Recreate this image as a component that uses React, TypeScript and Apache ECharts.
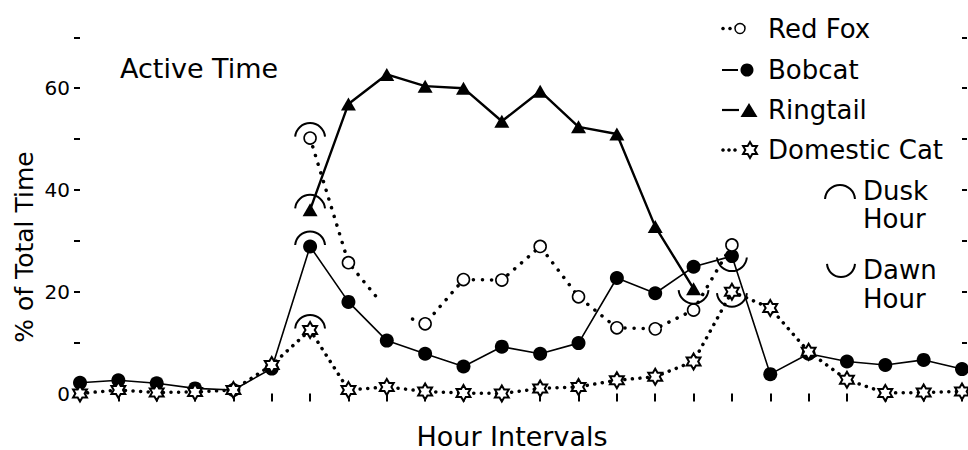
import React, { useEffect, useRef } from 'react';
import * as echarts from 'echarts';

// ---- data ----
const hours = ['1', '2', '3', '4', '5', '6', '7', '8', '9', '10', '11', '12', '13', '14', '15', '16', '17', '18', '19', '20', '21', '22', '23', '24'];

const bobcat = [2.1, 2.6, 2.0, 1.0, 0.7, 4.9, 28.9, 18.0, 10.4, 7.8, 5.3, 9.2, 7.8, 9.9, 22.7, 19.7, 24.9, 27.0, 3.8, 7.8, 6.3, 5.6, 6.6, 4.8];
const ringtail = [null, null, null, null, null, null, 36.1, 56.9, 62.7, 60.4, 60.0, 53.5, 59.4, 52.4, 51.0, 32.8, 20.6, null, null, null, null, null, null, null];
const redFox = [null, null, null, null, null, null, 50.2, 25.7, 16.5, 13.7, 22.4, 22.3, 28.9, 19.0, 12.9, 12.7, 16.4, 29.2, null, null, null, null, null, null];
const domesticCat = [0.0, 0.7, 0.2, 0.3, 0.7, 5.6, 12.5, 0.7, 1.3, 0.4, 0.1, 0.0, 1.0, 1.3, 2.6, 3.3, 6.3, 20.0, 16.8, 8.2, 2.7, 0.1, 0.2, 0.4];

const yLabelValues = [0, 20, 40, 60];
const duskIndex = 6;
const dawnRingtail = 16;
const dawnBobcat = 17;
const dawnCat = 17;
const foxUnmarkedIndex = 8;
const foxGapFrom = 7.8;
const foxGapTo = 8.55;

const FONT = 'DejaVu Sans';
const starPath =
  'path://M10,0L12.89,5L18.66,5L15.77,10L18.66,15L12.89,15L10,20L7.11,15L1.34,15L4.23,10L1.34,5L7.11,5Z';

function starPoints(cx: number, cy: number, R: number) {
  const pts: number[][] = [];
  for (let k = 0; k < 12; k++) {
    const a = (-90 + 30 * k) * (Math.PI / 180);
    const r = k % 2 === 0 ? R : R / Math.sqrt(3);
    pts.push([cx + r * Math.cos(a), cy + r * Math.sin(a)]);
  }
  return pts;
}

function txt(text: string, x: number, y: number, size: number, extra: any = {}) {
  return {
    type: 'text',
    x,
    y,
    ...extra,
    style: {
      text,
      x: 0,
      y: 0,
      fill: '#000',
      fontFamily: FONT,
      fontSize: size,
      textAlign: extra.align || 'left',
      textVerticalAlign: 'middle',
      align: extra.align || 'left',
      verticalAlign: 'middle',
    },
  };
}

function arcRender(upper: boolean, r: number) {
  return (params: any, api: any) => {
    const p = api.coord([api.value(0), api.value(1)]);
    return {
      type: 'arc',
      shape: {
        cx: p[0],
        cy: p[1],
        r,
        startAngle: upper ? Math.PI * 1.03 : Math.PI * 0.03,
        endAngle: upper ? Math.PI * 1.97 : Math.PI * 0.97,
        clockwise: true,
      },
      style: { stroke: '#000', fill: 'none', lineWidth: 2 },
    };
  };
}

export default function App() {
  const ref = useRef<HTMLDivElement>(null);

  useEffect(() => {
    if (!ref.current) return;
    const chart = echarts.init(ref.current, null, { renderer: 'svg' });

    const duskPoints = [
      [duskIndex, redFox[duskIndex]],
      [duskIndex, ringtail[duskIndex]],
      [duskIndex, bobcat[duskIndex]],
      [duskIndex, domesticCat[duskIndex]],
    ];
    const dawnPoints = [
      [dawnRingtail, ringtail[dawnRingtail]],
      [dawnBobcat, bobcat[dawnBobcat]],
      [dawnCat, domesticCat[dawnCat]],
    ];

    const legendY = [28.5, 70, 110, 150];

    const option: any = {
      animation: false,
      backgroundColor: '#fff',
      grid: { left: 80, right: 6, top: 37.3, bottom: 56.5 },
      xAxis: [
        {
          type: 'category',
          data: hours,
          boundaryGap: false,
          offset: 11,
          axisLine: { show: false },
          axisTick: { show: true, length: 8, interval: 0, lineStyle: { color: '#000', width: 2 } },
          axisLabel: { show: false },
          splitLine: { show: false },
        },
        {
          type: 'value',
          min: 0,
          max: hours.length - 1,
          show: false,
          splitLine: { show: false },
        },
      ],
      yAxis: [
        {
          type: 'value',
          min: 0,
          max: 70,
          interval: 10,
          position: 'left',
          axisLine: { show: false },
          axisTick: { show: true, length: 6, lineStyle: { color: '#000', width: 2 } },
          axisLabel: {
            margin: 10,
            color: '#000',
            fontFamily: FONT,
            fontSize: 20,
            formatter: (v: number) => (yLabelValues.includes(v) ? String(v) : ''),
          },
          splitLine: { show: false },
        },
        {
          type: 'value',
          min: 0,
          max: 70,
          interval: 10,
          position: 'right',
          axisLine: { show: false },
          axisTick: { show: true, length: 5, lineStyle: { color: '#000', width: 2 } },
          axisLabel: { show: false },
          splitLine: { show: false },
        },
      ],
      visualMap: {
        type: 'piecewise',
        show: false,
        dimension: 0,
        seriesIndex: 2,
        pieces: [
          { lt: foxGapFrom, color: '#000' },
          { gte: foxGapFrom, lt: foxGapTo, color: 'rgba(0,0,0,0)' },
          { gte: foxGapTo, color: '#000' },
        ],
      },
      series: [
        {
          name: 'Bobcat',
          type: 'line',
          data: bobcat,
          symbol: 'circle',
          symbolSize: 14,
          lineStyle: { color: '#000', width: 1.6 },
          itemStyle: { color: '#000' },
          z: 3,
        },
        {
          name: 'Ringtail',
          type: 'line',
          data: ringtail,
          symbol: 'triangle',
          symbolSize: [15, 13],
          lineStyle: { color: '#000', width: 2.4 },
          itemStyle: { color: '#000' },
          z: 3,
        },
        {
          name: 'Red Fox line',
          type: 'line',
          xAxisIndex: 1,
          data: redFox.map((v, i) => [i, v]),
          showSymbol: false,
          symbol: 'none',
          lineStyle: { width: 3.5, type: [0.1, 9], cap: 'round' },
          z: 2,
        },
        {
          name: 'Red Fox',
          type: 'line',
          data: redFox.map((v, i) => (i === foxUnmarkedIndex ? { value: v, symbol: 'none' } : v)),
          symbol: 'circle',
          symbolSize: 12,
          lineStyle: { opacity: 0, width: 0 },
          itemStyle: { color: '#fff', borderColor: '#000', borderWidth: 1.6 },
          z: 4,
        },
        {
          name: 'Domestic Cat',
          type: 'line',
          data: domesticCat,
          symbol: starPath,
          symbolSize: 16,
          symbolKeepAspect: true,
          lineStyle: { color: '#000', width: 3.5, type: [0.1, 7.5], cap: 'round' },
          itemStyle: { color: '#fff', borderColor: '#000', borderWidth: 2 },
          z: 4,
        },
        {
          name: 'Dusk Hour',
          type: 'custom',
          coordinateSystem: 'cartesian2d',
          data: duskPoints,
          renderItem: arcRender(true, 15),
          z: 5,
        },
        {
          name: 'Dawn Hour',
          type: 'custom',
          coordinateSystem: 'cartesian2d',
          data: dawnPoints,
          renderItem: arcRender(false, 15),
          z: 5,
        },
      ],
      graphic: [
        txt('Active Time', 120, 68, 27),
        txt('% of Total Time', 24, 247, 25, { align: 'center', rotation: Math.PI / 2 }),
        txt('Hour Intervals', 512, 436, 27, { align: 'center' }),
        // legend: Red Fox
        { type: 'circle', shape: { cx: 723, cy: legendY[0], r: 1.8 }, style: { fill: '#000' } },
        { type: 'circle', shape: { cx: 730, cy: legendY[0], r: 1.8 }, style: { fill: '#000' } },
        { type: 'circle', shape: { cx: 740, cy: legendY[0], r: 5 }, style: { fill: '#fff', stroke: '#000', lineWidth: 1.5 } },
        txt('Red Fox', 768, legendY[0], 26),
        // Bobcat
        { type: 'line', shape: { x1: 722, y1: legendY[1], x2: 738, y2: legendY[1] }, style: { stroke: '#000', lineWidth: 2 } },
        { type: 'circle', shape: { cx: 747, cy: legendY[1], r: 6.5 }, style: { fill: '#000' } },
        txt('Bobcat', 768, legendY[1], 26),
        // Ringtail
        { type: 'line', shape: { x1: 722, y1: legendY[2], x2: 739, y2: legendY[2] }, style: { stroke: '#000', lineWidth: 2.2 } },
        {
          type: 'polygon',
          shape: { points: [[749, legendY[2] - 7], [757.5, legendY[2] + 7], [740.5, legendY[2] + 7]] },
          style: { fill: '#000' },
        },
        txt('Ringtail', 768, legendY[2], 26),
        // Domestic Cat
        { type: 'circle', shape: { cx: 723, cy: legendY[3], r: 1.8 }, style: { fill: '#000' } },
        { type: 'circle', shape: { cx: 729, cy: legendY[3], r: 1.8 }, style: { fill: '#000' } },
        { type: 'circle', shape: { cx: 735, cy: legendY[3], r: 1.8 }, style: { fill: '#000' } },
        {
          type: 'polygon',
          shape: { points: starPoints(750, legendY[3], 8) },
          style: { fill: '#fff', stroke: '#000', lineWidth: 2 },
        },
        txt('Domestic Cat', 768, legendY[3], 26),
        // Dusk / Dawn
        {
          type: 'arc',
          shape: { cx: 840, cy: 200, r: 15, startAngle: Math.PI * 1.02, endAngle: Math.PI * 1.98, clockwise: true },
          style: { stroke: '#000', lineWidth: 2, fill: 'none' },
        },
        txt('Dusk', 863, 191, 26),
        txt('Hour', 863, 219, 26),
        {
          type: 'arc',
          shape: { cx: 841, cy: 263, r: 14, startAngle: Math.PI * 0.02, endAngle: Math.PI * 0.98, clockwise: true },
          style: { stroke: '#000', lineWidth: 2, fill: 'none' },
        },
        txt('Dawn', 863, 270, 26),
        txt('Hour', 863, 299, 26),
      ],
    };

    chart.setOption(option);
    return () => {
      chart.dispose();
    };
  }, []);

  return (
    <div
      ref={ref}
      style={{ position: 'fixed', left: 0, top: 0, width: 968, height: 450, background: '#fff' }}
    />
  );
}
